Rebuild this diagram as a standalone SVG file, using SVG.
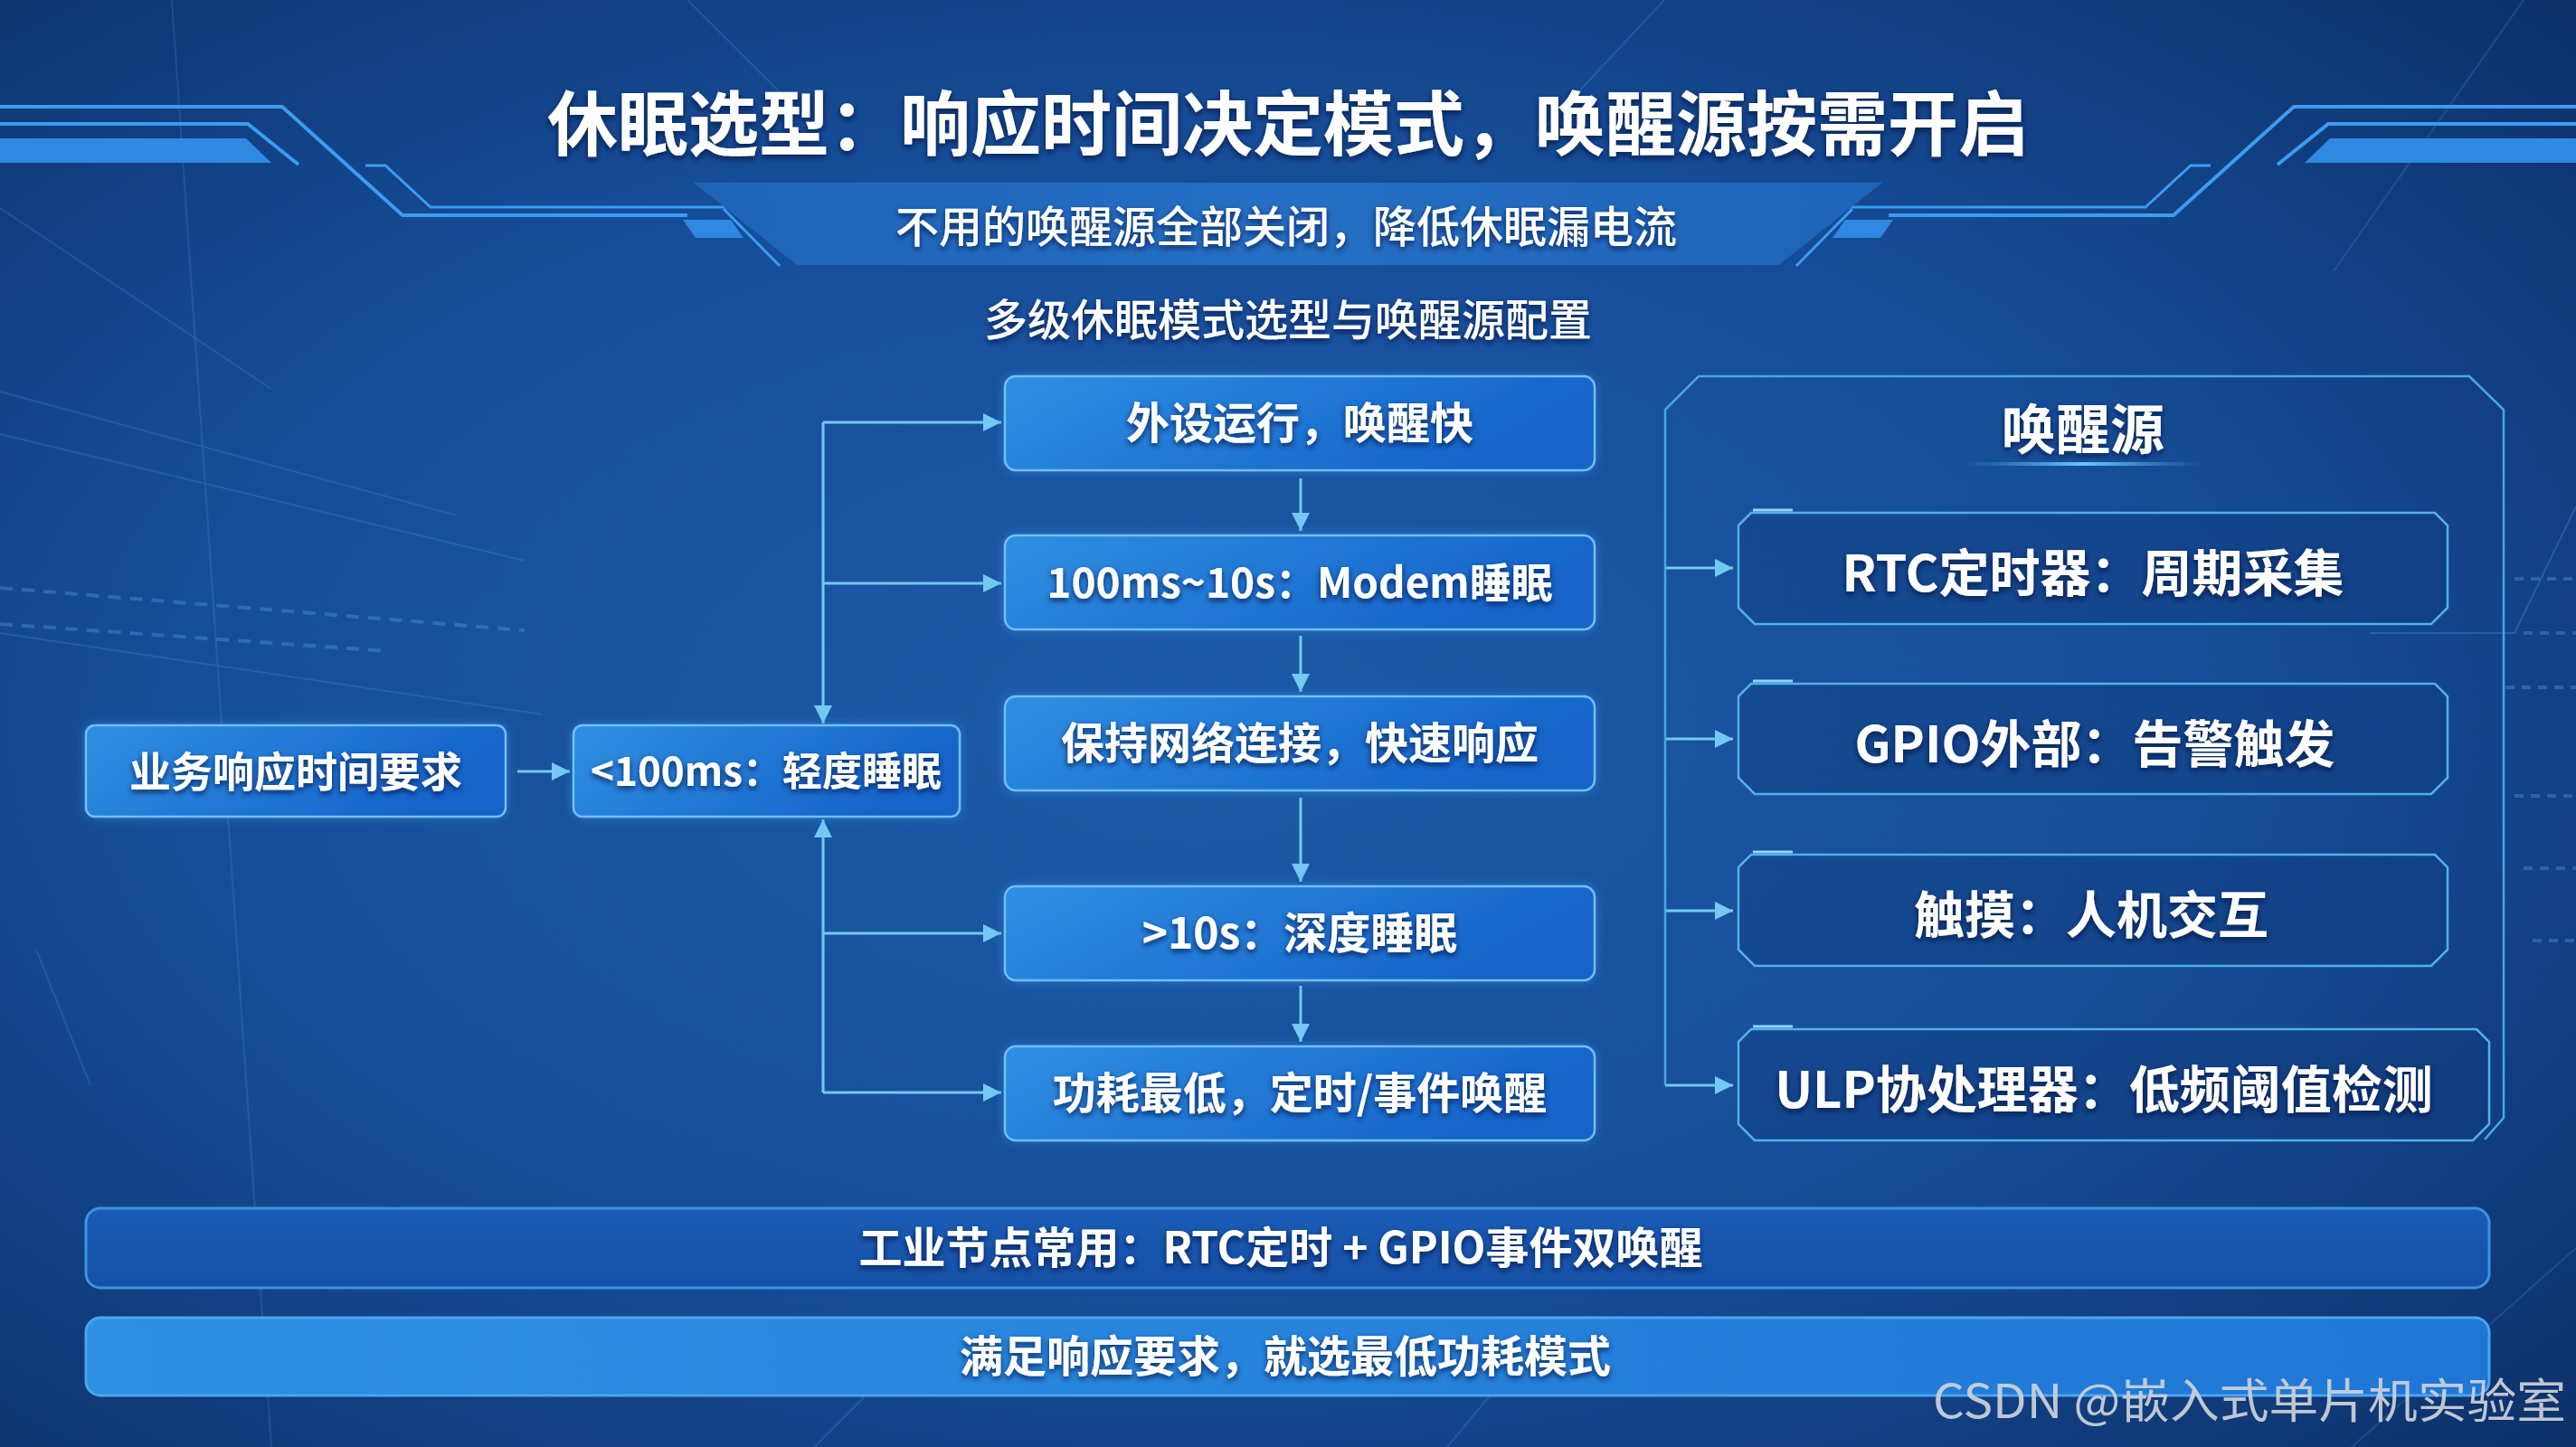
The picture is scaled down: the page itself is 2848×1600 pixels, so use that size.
<svg xmlns="http://www.w3.org/2000/svg" width="2848" height="1600" viewBox="0 0 2848 1600">
<defs>
  <radialGradient id="bg" cx="0.46" cy="0.5" r="0.8">
    <stop offset="0" stop-color="#1c5aa8"/>
    <stop offset="0.5" stop-color="#164d98"/>
    <stop offset="1" stop-color="#0b2b60"/>
  </radialGradient>
  <linearGradient id="ng" x1="0" y1="0" x2="1" y2="0.3">
    <stop offset="0" stop-color="#2f8fe2"/>
    <stop offset="1" stop-color="#1563c9"/>
  </linearGradient>
  <linearGradient id="bn" x1="0" y1="0" x2="1" y2="0">
    <stop offset="0" stop-color="#1e63b8"/>
    <stop offset="0.5" stop-color="#256fc4"/>
    <stop offset="1" stop-color="#1e63b8"/>
  </linearGradient>
  <linearGradient id="b1" x1="0" y1="0" x2="0" y2="1">
    <stop offset="0" stop-color="#1a5cb6"/>
    <stop offset="1" stop-color="#1550a6"/>
  </linearGradient>
  <linearGradient id="b2" x1="0" y1="0" x2="1" y2="0">
    <stop offset="0" stop-color="#2e90e2"/>
    <stop offset="1" stop-color="#1f76d6"/>
  </linearGradient>
  <linearGradient id="ul" x1="0" y1="0" x2="1" y2="0">
    <stop offset="0" stop-color="#4fb0f0" stop-opacity="0"/>
    <stop offset="0.5" stop-color="#6cc8f8"/>
    <stop offset="1" stop-color="#4fb0f0" stop-opacity="0"/>
  </linearGradient>
  <filter id="ts" x="-5%" y="-30%" width="110%" height="160%">
    <feDropShadow dx="0" dy="3" stdDeviation="3" flood-color="#041838" flood-opacity="0.75"/>
  </filter>
  <filter id="glow" x="-10%" y="-40%" width="120%" height="180%">
    <feDropShadow dx="0" dy="0" stdDeviation="6" flood-color="#3aa4ff" flood-opacity="0.45"/>
  </filter>
  <marker id="ah" viewBox="0 0 10 10" refX="10" refY="5" markerWidth="20" markerHeight="20" markerUnits="userSpaceOnUse" orient="auto">
    <path d="M0,0 L10,5 L0,10 z" fill="#74c8f2"/>
  </marker>
  <style>
    .t{font-family:"Noto Sans CJK SC","Noto Sans",sans-serif;fill:#ffffff;text-anchor:middle;font-weight:700;filter:url(#ts)}
    .m{font-weight:500}
    .nd{fill:url(#ng);stroke:#6fbff3;stroke-width:2.5;filter:url(#glow)}
    .ws{fill:#0f3a78;fill-opacity:0.35;stroke:#52b0ec;stroke-width:2.5}
    .cn{fill:none;stroke:#74c8f2;stroke-width:3}
    .deco{fill:none;stroke:#3b9cf2;stroke-width:4}
    .bgl{fill:none;stroke:#5fb4ff;stroke-width:2;opacity:0.18}
  </style>
</defs>

<rect width="2848" height="1600" fill="url(#bg)"/>

<g id="background-lines">
  <path class="bgl" d="M0,433 L505,570 M0,480 L580,620 M0,700 L600,790 M0,230 L300,430 M190,0 L300,1600 M100,1200 L40,1050"/>
  <path class="bgl" d="M0,650 L580,697 M0,690 L430,720" stroke-dasharray="14 10" style="opacity:0.3;stroke-width:4"/>
  <path class="bgl" d="M760,0 L900,140 M1840,0 L1700,150 M2790,0 L2580,300 M2600,1600 L2848,1380 M900,1600 L1000,1500 M1600,1600 L1700,1480"/>
  <path class="bgl" d="M2780,640 H2848 M2790,700 H2848 M2770,760 H2848 M2780,880 H2848 M2790,960 H2848 M2800,1040 H2848" stroke-dasharray="10 8" style="opacity:0.3;stroke-width:4"/>
  <path class="bgl" d="M2848,560 L2780,700 L2620,700" style="opacity:0.25"/>
</g>

<g id="header-deco">
  <g id="decoL">
    <path class="deco" d="M0,118 H312 L445,238 H760"/>
    <path class="deco" d="M0,137 H274 L330,182"/>
    <path class="deco" d="M404,183 H426 L476,229 H820" style="stroke-width:3"/>
    <path class="deco" d="M800,231 L862,294" style="stroke-width:3"/>
    <path d="M0,153 H272 L300,180 H0 Z" fill="#2f88e2"/>
    <path d="M755,243 H808 L822,263 H769 Z" fill="#2f88e2"/>
  </g>
  <use href="#decoL" transform="translate(2848,0) scale(-1,1)"/>
  <path d="M767,202 H2081 L1967,293 H881 Z" fill="url(#bn)"/>
</g>

<g id="title">
  <text class="t" x="1424" y="166" font-size="78">休眠选型：响应时间决定模式，唤醒源按需开启</text>
  <text class="t m" x="1422" y="268" font-size="48">不用的唤醒源全部关闭，降低休眠漏电流</text>
  <text class="t m" x="1424" y="371" font-size="48">多级休眠模式选型与唤醒源配置</text>
</g>

<g id="connectors">
  <path class="cn" d="M572,853 H630" marker-end="url(#ah)"/>
  <path class="cn" d="M910,467 V800" marker-end="url(#ah)"/>
  <path class="cn" d="M910,467 H1107" marker-end="url(#ah)"/>
  <path class="cn" d="M910,645 H1107" marker-end="url(#ah)"/>
  <path class="cn" d="M910,1208 V906" marker-end="url(#ah)"/>
  <path class="cn" d="M910,1032 H1107" marker-end="url(#ah)"/>
  <path class="cn" d="M910,1208 H1107" marker-end="url(#ah)"/>
  <path class="cn" d="M1438,529 V587" marker-end="url(#ah)"/>
  <path class="cn" d="M1438,703 V765" marker-end="url(#ah)"/>
  <path class="cn" d="M1438,882 V975" marker-end="url(#ah)"/>
  <path class="cn" d="M1438,1090 V1152" marker-end="url(#ah)"/>
  <path class="cn" d="M1841,628 H1916" marker-end="url(#ah)"/>
  <path class="cn" d="M1841,817 H1916" marker-end="url(#ah)"/>
  <path class="cn" d="M1841,1007 H1916" marker-end="url(#ah)"/>
  <path class="cn" d="M1841,1200 H1916" marker-end="url(#ah)"/>
</g>

<g id="node-req">
  <rect class="nd" x="95" y="802" width="464" height="101" rx="10"/>
  <text class="t" x="327" y="870" font-size="46">业务响应时间要求</text>
</g>
<g id="node-light">
  <rect class="nd" x="634" y="802" width="427" height="101" rx="10"/>
  <text class="t" x="847" y="869" font-size="44">&lt;100ms：轻度睡眠</text>
</g>
<g id="node-m1">
  <rect class="nd" x="1111" y="416" width="652" height="104" rx="12"/>
  <text class="t" x="1437" y="485" font-size="48">外设运行，唤醒快</text>
</g>
<g id="node-m2">
  <rect class="nd" x="1111" y="592" width="652" height="104" rx="12"/>
  <text class="t" x="1437" y="661" font-size="46">100ms~10s：Modem睡眠</text>
</g>
<g id="node-m3">
  <rect class="nd" x="1111" y="770" width="652" height="104" rx="12"/>
  <text class="t" x="1437" y="839" font-size="48">保持网络连接，快速响应</text>
</g>
<g id="node-m4">
  <rect class="nd" x="1111" y="980" width="652" height="104" rx="12"/>
  <text class="t" x="1437" y="1049" font-size="48">&gt;10s：深度睡眠</text>
</g>
<g id="node-m5">
  <rect class="nd" x="1111" y="1157" width="652" height="104" rx="12"/>
  <text class="t" x="1437" y="1226" font-size="48">功耗最低，定时/事件唤醒</text>
</g>

<g id="wake-panel">
  <path d="M1841,1200 V453 L1878,416 H2730 L2768,453 V1236 L2747,1260" fill="none" stroke="#4aa6e6" stroke-width="2.5"/>
  <text class="t" x="2303" y="497" font-size="60">唤醒源</text>
  <rect x="2171" y="511" width="264" height="4" fill="url(#ul)"/>
</g>
<g id="ws-rtc">
  <path class="ws" d="M1922,581 L1936,567 H2692 L2706,581 V672 L2688,690 H1940 L1922,672 Z"/>
  <path d="M1938,564 H1982" stroke="#8fd6ff" stroke-width="3"/>
  <text class="t" x="2314" y="654" font-size="56">RTC定时器：周期采集</text>
</g>
<g id="ws-gpio">
  <path class="ws" d="M1922,770 L1936,756 H2692 L2706,770 V860 L2688,878 H1940 L1922,860 Z"/>
  <path d="M1938,753 H1982" stroke="#8fd6ff" stroke-width="3"/>
  <text class="t" x="2316" y="843" font-size="56">GPIO外部：告警触发</text>
</g>
<g id="ws-touch">
  <path class="ws" d="M1922,959 L1936,945 H2692 L2706,959 V1050 L2688,1068 H1940 L1922,1050 Z"/>
  <path d="M1938,942 H1982" stroke="#8fd6ff" stroke-width="3"/>
  <text class="t" x="2312" y="1032" font-size="56">触摸：人机交互</text>
</g>
<g id="ws-ulp">
  <path class="ws" d="M1922,1152 L1936,1138 H2738 L2752,1152 V1243 L2734,1261 H1940 L1922,1243 Z"/>
  <path d="M1938,1135 H1982" stroke="#8fd6ff" stroke-width="3"/>
  <text class="t" x="2326" y="1225" font-size="56">ULP协处理器：低频阈值检测</text>
</g>

<g id="bar-industrial">
  <rect x="95" y="1336" width="2657" height="88" rx="16" fill="url(#b1)" stroke="#3d92e4" stroke-width="3"/>
  <text class="t" x="1416" y="1397" font-size="48">工业节点常用：RTC定时 + GPIO事件双唤醒</text>
</g>
<g id="bar-rule">
  <rect x="95" y="1457" width="2657" height="86" rx="16" fill="url(#b2)" stroke="#4ea4ee" stroke-width="3"/>
  <text class="t" x="1421" y="1517" font-size="48">满足响应要求，就选最低功耗模式</text>
</g>

<text x="2137" y="1568" font-family="'Noto Sans CJK SC','Noto Sans',sans-serif" font-size="52" textLength="700" lengthAdjust="spacingAndGlyphs" fill="#cdd2da" fill-opacity="0.92">CSDN @嵌入式单片机实验室</text>
</svg>
